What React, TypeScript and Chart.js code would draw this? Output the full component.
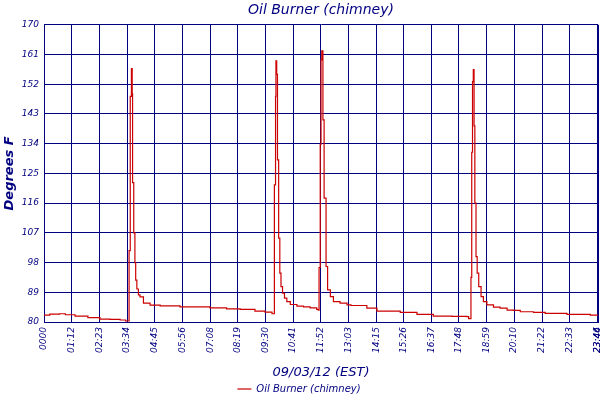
import { useEffect, useRef } from "react";
import Chart from "chart.js/auto";

// minutes after midnight
const times = [
  0, 15, 40, 55, 80, 113, 144, 170, 196, 210,
  219, 222, 225, 227, 228, 231, 234, 236, 239, 243, 247, 256, 273, 299, 324, 350,
  402, 427, 470, 505, 543, 569, 587,
  593, 596, 597, 599, 601, 604, 607, 610, 614, 619, 625, 634, 651, 668, 685, 702, 706,
  708, 711, 713, 715, 718, 721, 726, 730, 737, 745, 762, 780, 790,
  831, 857, 917, 960, 1002, 1050, 1088, 1093,
  1099, 1101, 1103, 1105, 1107, 1109, 1112, 1115, 1119, 1125, 1131, 1140, 1157,
  1174, 1192, 1208, 1226, 1260, 1290, 1346, 1406, 1426,
];

// degrees F
const temps = [
  82.1, 82.4, 82.5, 82.2, 81.8, 81.3, 80.9, 80.8, 80.6, 80.3,
  101.6, 148.3, 156.7, 149.1, 122.2, 107, 98, 92.7, 90, 88.2, 87.6, 85.7, 85.1, 84.9, 84.9, 84.6,
  84.6, 84.3, 84, 83.8, 83.3, 83, 82.5,
  121.5, 148.3, 159.1, 155, 129.1, 105.4, 94.8, 90.7, 88.7, 87.2, 86.2, 85.3, 84.8, 84.6, 84.3, 83.8, 83.6,
  96.5, 133.8, 159.4, 162.1, 141.2, 117.5, 96.8, 89.7, 87.7, 86.2, 85.7, 85.2, 85,
  84.2, 83.3, 82.9, 82.3, 81.8, 81.7, 81.6, 81,
  93.5, 131.4, 152.8, 156.4, 139.4, 116, 99.8, 94.8, 90.7, 87.7, 86.2, 85.2, 84.5,
  84.2, 83.6, 83.5, 83.1, 82.9, 82.6, 82.3, 82.1, 82.1,
];

const xTickValues = [
  0, 72, 143, 214, 285, 356, 428, 499, 570, 641, 712,
  783, 855, 926, 997, 1068, 1139, 1210, 1282, 1353, 1424, 1426,
];
const xTickLabels = [
  "0000", "01:12", "02:23", "03:34", "04:45", "05:56", "07:08", "08:19", "09:30", "10:41", "11:52",
  "13:03", "14:15", "15:26", "16:37", "17:48", "18:59", "20:10", "21:22", "22:33", "23:44", "23:46",
];
const yTickValues = [80, 89, 98, 107, 116, 125, 134, 143, 152, 161, 170];

const navy = "#000080";
const family = "'DejaVu Sans', sans-serif";

export default function App() {
  const canvasRef = useRef<HTMLCanvasElement | null>(null);

  useEffect(() => {
    document.body.style.margin = "0";
    if (!canvasRef.current) return;

    const chart = new Chart(canvasRef.current, {
      type: "line",
      data: {
        datasets: [
          {
            label: "Oil Burner (chimney)",
            data: times.map((t, i) => ({ x: t, y: temps[i] })),
            borderColor: "#cc0000",
            backgroundColor: "#cc0000",
            borderWidth: 1.2,
            pointRadius: 0,
            stepped: true,
            fill: false,
          },
        ],
      },
      options: {
        responsive: false,
        animation: false,
        layout: { padding: { left: 0, right: 2, top: 0, bottom: -4 } },
        plugins: {
          title: {
            display: true,
            text: "Oil Burner (chimney)",
            color: navy,
            fullSize: false,
            font: { family, size: 14, style: "italic", weight: "normal" },
            padding: { top: 2, bottom: 6 },
          },
          legend: {
            position: "bottom",
            labels: {
              color: navy,
              usePointStyle: true,
              pointStyle: "line",
              pointStyleWidth: 14,
              padding: 0,
              font: { family, size: 10, style: "italic" },
            },
          },
          tooltip: { enabled: false },
        },
        scales: {
          x: {
            type: "linear",
            min: 0,
            max: 1426,
            grid: { color: navy, drawTicks: false },
            border: { color: navy },
            afterBuildTicks: (scale) => {
              scale.ticks = xTickValues.map((v) => ({ value: v }));
            },
            afterFit: (scale) => {
              scale.height = 62;
              scale.paddingLeft = 0;
              scale.paddingRight = 0;
            },
            ticks: {
              autoSkip: false,
              maxRotation: 90,
              minRotation: 90,
              padding: 5,
              color: navy,
              font: { family, size: 9, style: "italic" },
              callback: (_v, i) => xTickLabels[i],
            },
            title: {
              display: true,
              text: "09/03/12 (EST)",
              color: navy,
              font: { family, size: 13, style: "italic" },
              padding: { top: 0, bottom: 4 },
            },
          },
          y: {
            min: 80,
            max: 170,
            grid: { color: navy, drawTicks: false },
            border: { color: navy },
            afterBuildTicks: (scale) => {
              scale.ticks = yTickValues.map((v) => ({ value: v }));
            },
            afterFit: (scale) => {
              scale.width = 44;
            },
            ticks: {
              padding: 5,
              color: navy,
              font: { family, size: 9, style: "italic" },
            },
            title: {
              display: true,
              text: "Degrees F",
              color: navy,
              font: { family, size: 13, style: "italic", weight: "bold" },
              padding: { top: 2, bottom: 0 },
            },
          },
        },
      },
    });

    return () => {
      chart.destroy();
    };
  }, []);

  return (
    <div style={{ width: "600px", height: "400px", background: "#ffffff" }}>
      <canvas ref={canvasRef} width={600} height={400}></canvas>
    </div>
  );
}
